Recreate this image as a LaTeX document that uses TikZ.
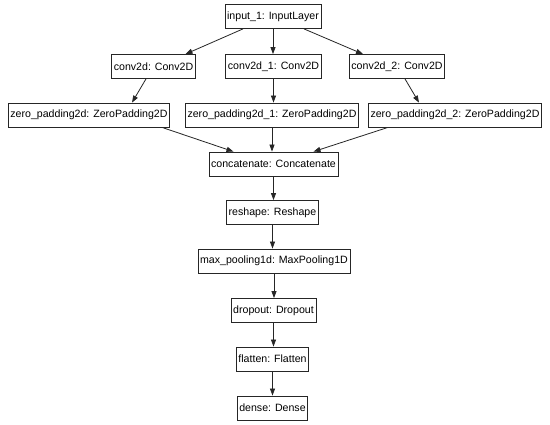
\documentclass[tikz,border=0pt]{standalone}
\usepackage{fontspec}
\setmainfont{Liberation Sans}
\usetikzlibrary{arrows.meta}
\begin{document}
\begin{tikzpicture}[x=1pt,y=-1pt,
  layer/.style={draw=black!85, line width=0.8pt, fill=white, inner xsep=2.2pt, inner ysep=0pt,
    minimum height=24pt, font=\fontsize{10.6}{12}\selectfont, text=black},
  conn/.style={draw=black!85, line width=0.8pt, -{Triangle[length=7pt,width=5pt]}}]
\fill[white] (0,0) rectangle (550,425);
\useasboundingbox (0,0) rectangle (550,425);
\node[layer] (in) at (273,16.5) {input\_1: InputLayer};
\node[layer] (c0) at (153.5,66.5) {conv2d: Conv2D};
\node[layer] (c1) at (273.5,66.5) {conv2d\_1: Conv2D};
\node[layer] (c2) at (397,66.5) {conv2d\_2: Conv2D};
\node[layer] (z0) at (89,115) {zero\_padding2d: ZeroPadding2D};
\node[layer] (z1) at (272,115) {zero\_padding2d\_1: ZeroPadding2D};
\node[layer] (z2) at (455,115) {zero\_padding2d\_2: ZeroPadding2D};
\node[layer] (cat) at (273.5,164) {concatenate: Concatenate};
\node[layer] (rs) at (272.5,212.5) {reshape: Reshape};
\node[layer] (mp) at (274,261) {max\_pooling1d: MaxPooling1D};
\node[layer] (do) at (273.5,310.5) {dropout: Dropout};
\node[layer] (fl) at (272.5,359) {flatten: Flatten};
\node[layer] (de) at (272.5,408) {dense: Dense};

\draw[conn] ([xshift=-30pt]in.south) -- ([xshift=32pt]c0.north);
\draw[conn] (in.south) -- (in.south |- c1.north);
\draw[conn] ([xshift=31pt]in.south) -- ([xshift=-34pt]c2.north);
\draw[conn] ([xshift=-7.5pt]c0.south) -- ([xshift=43pt]z0.north);
\draw[conn] (c1.south) -- (c1.south |- z1.north);
\draw[conn] ([xshift=8pt]c2.south) -- ([xshift=-36pt]z2.north);
\draw[conn] ([xshift=73pt]z0.south) -- ([xshift=-40pt]cat.north);
\draw[conn] (z1.south) -- (z1.south |- cat.north);
\draw[conn] ([xshift=-67pt]z2.south) -- ([xshift=40pt]cat.north);
\draw[conn] (cat.south) -- (cat.south |- rs.north);
\draw[conn] (rs.south) -- (rs.south |- mp.north);
\draw[conn] (mp.south) -- (mp.south |- do.north);
\draw[conn] (do.south) -- (do.south |- fl.north);
\draw[conn] (fl.south) -- (fl.south |- de.north);
\end{tikzpicture}
\end{document}
